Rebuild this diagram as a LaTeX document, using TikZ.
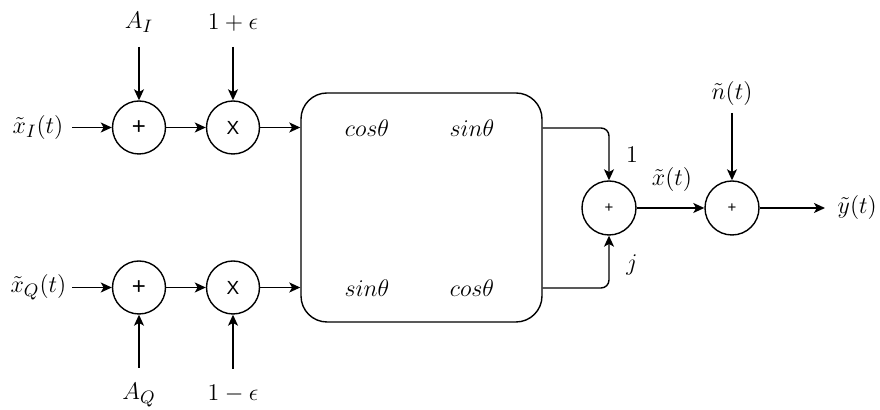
\documentclass[tikz,border=0pt]{standalone}
\usepackage{fontspec}
\newfontfamily\hel{Liberation Sans}
\usetikzlibrary{arrows.meta}
\begin{document}
\begin{tikzpicture}[x=0.5pt,y=-0.5pt,
  line width=0.7pt,
  font=\fontsize{13}{16}\selectfont,
  >={Stealth[length=5.5pt,width=5pt,inset=1.4pt]},
  opbig/.style={draw,circle,minimum size=26.5pt,inner sep=0pt},
  opsmall/.style={draw,circle,minimum size=27pt,inner sep=0pt},
  lbl/.style={inner sep=0pt},
  mtx/.style={inner sep=0pt},
  sig/.style={->}]
\useasboundingbox (0,0) rectangle (880,410);
% operator circles
\node[opbig] (p1) at (139,127.5) {\hel\fontsize{12}{12}\selectfont +};
\node[opbig] (x1) at (233,127.5) {\hel\fontsize{9.5}{10}\selectfont X};
\node[opbig] (p2) at (139,287.5) {\hel\fontsize{12}{12}\selectfont +};
\node[opbig] (x2) at (233,287.5) {\hel\fontsize{9.5}{10}\selectfont X};
\node[opsmall] (s1) at (609,208) {\hel\fontsize{7.5}{8}\selectfont +};
\node[opsmall] (s2) at (732,208) {\hel\fontsize{7.5}{8}\selectfont +};
% matrix box
\node[draw,rounded corners=13pt,minimum width=120.5pt,minimum height=114.5pt,inner sep=0pt] (box) at (421.5,207.5) {};
\node[mtx] (m11) at (367,128) {$cos\theta$};
\node[mtx] (m12) at (472,128) {$sin\theta$};
\node[mtx] (m21) at (367,288) {$sin\theta$};
\node[mtx] (m22) at (472,288) {$cos\theta$};
% labels
\node[lbl,anchor=east] (xi) at (64,127.5) {$\tilde{x}_I(t)$};
\node[lbl,anchor=east] (xq) at (67,287.5) {$\tilde{x}_Q(t)$};
\node[lbl,anchor=south] (ai) at (139,33) {$A_I$};
\node[lbl,anchor=south] (ep) at (233,32) {$1+\epsilon$};
\node[lbl,anchor=north] (aq) at (139,382) {$A_Q$};
\node[lbl,anchor=north] (em) at (233,384) {$1-\epsilon$};
\node[lbl,anchor=south] (nt) at (732,106) {$\tilde{n}(t)$};
\node[lbl,anchor=west] (yt) at (837,208) {$\tilde{y}(t)$};
\node[lbl] (one) at (632,155) {$1$};
\node[lbl] (jj) at (632,265) {$j$};
\node[lbl] (xt) at (672,180) {$\tilde{x}(t)$};
% connectors
\draw[sig,shorten <=4pt] (xi) -- (p1);
\draw[sig,shorten <=2.5pt] (xq) -- (p2);
\draw[sig] (p1) -- (x1);
\draw[sig] (p2) -- (x2);
\draw[sig] (x1) -- (x1 -| box.west);
\draw[sig] (x2) -- (x2 -| box.west);
\draw[sig,shorten <=7pt] (ai) -- (p1);
\draw[sig,shorten <=7.5pt] (ep) -- (x1);
\draw[sig,shorten <=7pt] (aq) -- (p2);
\draw[sig,shorten <=7.5pt] (em) -- (x2);
\draw[sig,rounded corners=4pt] (box.east |- m12) -| (s1);
\draw[sig,rounded corners=4pt] (box.east |- m22) -| (s1);
\draw[sig] (s1) -- (s2);
\draw[sig,shorten <=3.5pt] (nt) -- (s2);
\draw[sig,shorten >=6pt] (s2) -- (yt);
\end{tikzpicture}
\end{document}
